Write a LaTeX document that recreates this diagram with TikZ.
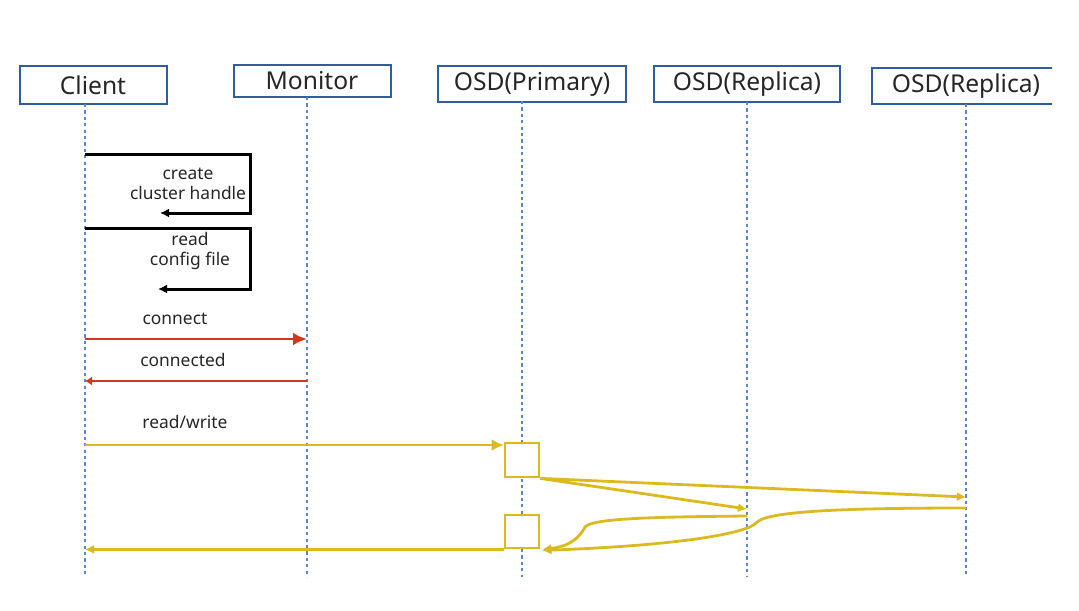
\documentclass[tikz,border=0pt]{standalone}
\usepackage{fontspec}
\setmainfont{Noto Sans}
\usetikzlibrary{arrows.meta,positioning,calc}
\definecolor{boxblue}{HTML}{2E5E9E}
\definecolor{lifeblue}{HTML}{5A86CC}
\definecolor{msgred}{HTML}{D0391C}
\definecolor{msggold}{HTML}{DCBA1E}
\definecolor{txtgrey}{HTML}{262626}

\begin{document}
\begin{tikzpicture}[
  x=0.5pt, y=-0.5pt,
  actor/.style={draw=boxblue, line width=1pt, fill=white, inner sep=0pt,
                text=txtgrey, font=\fontsize{12.3}{14}\selectfont},
  lifeline/.style={lifeblue, line width=0.6pt, dash pattern=on 1.6pt off 1.6pt},
  msglabel/.style={font=\fontsize{8.7}{10}\selectfont, text=txtgrey,
                   align=center, inner sep=0pt},
  selfmsg/.style={black, line width=1.5pt, -{Latex[length=4.5pt,width=4.5pt]}},
  redbig/.style={msgred, line width=1.4pt, -{Latex[length=7pt,width=6.5pt]}},
  redsmall/.style={msgred, line width=1.4pt, -{Latex[length=3.5pt,width=4.5pt]}},
  goldbig/.style={msggold, line width=1.4pt, -{Latex[length=6pt,width=6pt]}},
  goldsmall/.style={msggold, line width=1.4pt, -{Latex[length=4.5pt,width=4.5pt]}},
  actbox/.style={draw=msggold, line width=1.4pt, fill=white, inner sep=0pt,
                 minimum width=17pt},
]
\useasboundingbox (0,0) rectangle (1079,610);

% --- actors along the top
\node[actor, minimum width=73.5pt, minimum height=19pt] (client)  at (93,85)  {Client};
\node[actor, minimum width=78.5pt, minimum height=15.5pt] (monitor) at (312,81) {Monitor};
\node[actor, minimum width=94pt, minimum height=17.5pt] (primary) at (532,84) {OSD(Primary)};
\node[actor, minimum width=93pt, minimum height=17.5pt] (replicaA) at (747,84) {OSD(Replica)};
% the last box runs off the right edge of the picture
\begin{scope}
  \clip (860,60) rectangle (1052,112);
  \node[actor, minimum width=94pt, minimum height=18pt] (replicaB) at (966,86) {OSD(Replica)};
\end{scope}

% --- lifelines
\coordinate (cl) at (85,104);
\coordinate (mo) at (307,97);
\coordinate (pr) at (522,101);
\coordinate (ra) at (747,102);
\coordinate (rb) at (966,104);
\coordinate (bottom) at (0,577);
\foreach \l in {cl,mo,pr,ra,rb}
  \draw[lifeline] (\l) -- (\l |- bottom);

% --- client talks to itself
\coordinate (self1) at (0,154);
\coordinate (self2) at (0,228);
\draw[selfmsg] (cl |- self1) -- (250,154) -- (250,213) -- (160,213);
\node[msglabel] (lbl-create) at (188,184) {create\\cluster handle};
\draw[selfmsg] (cl |- self2) -- (250,228) -- (250,289) -- (158,289);
\node[msglabel] (lbl-read) at (190,251) {read\\config file};

% --- client <-> monitor
\coordinate (y-connect) at (0,339);
\coordinate (y-connected) at (0,381);
\draw[redbig] (cl |- y-connect) -- (mo |- y-connect);
\node[msglabel] (lbl-connect) at (175,319) {connect};
\draw[redsmall] (mo |- y-connected) -- (cl |- y-connected);
\node[msglabel] (lbl-connected) at (183,360) {connected};

% --- read/write through the primary to the replicas
\node[actbox, minimum height=17pt] (act1) at (522,460) {};
\node[actbox, minimum height=16.5pt] (act2) at (522,531.5) {};
\coordinate (y-rw) at (0,445);
\draw[goldbig] (cl |- y-rw) -- (act1.west |- y-rw);
\node[msglabel] (lbl-rw) at (185,422) {read/write};

\coordinate (ra-in) at (747,509);
\coordinate (rb-in) at (966,497);
\draw[goldsmall] (act1.south east) -- (ra-in);
\draw[goldsmall] (act1.south east) -- (rb-in);

% --- acks come back to the primary, then to the client
\coordinate (ra-out) at (747,516);
\coordinate (rb-out) at (966,508);
\draw[goldsmall] (ra-out) .. controls (640,517) and (592,519) .. (585,527)
  .. controls (578,541) and (565,547) .. ([xshift=1pt]act2.south east);
\draw[goldsmall] (rb-out) .. controls (830,508) and (765,512) .. (756,523)
  .. controls (748,532) and (690,545) .. ([xshift=1pt,yshift=-0.5pt]act2.south east);
\draw[goldsmall] (act2.south west) -- (cl |- act2.south);
\end{tikzpicture}
\end{document}
